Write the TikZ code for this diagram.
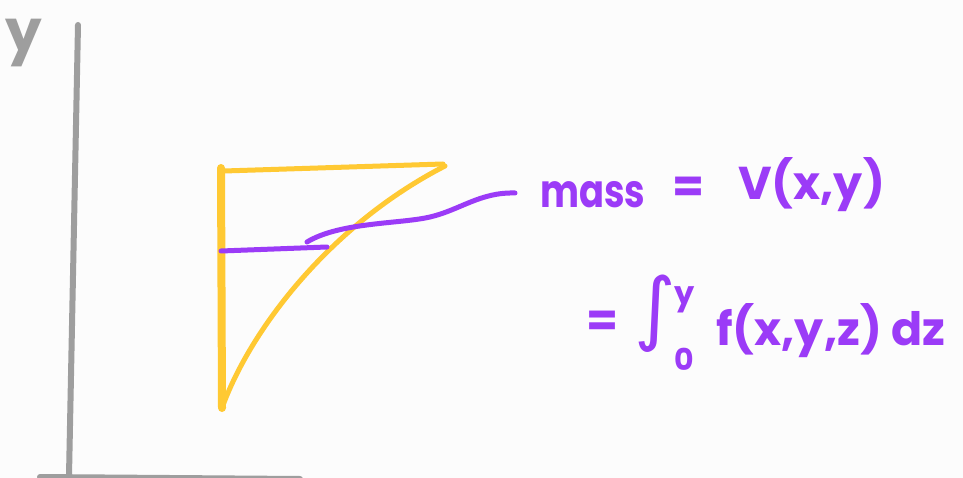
\documentclass[tikz,border=0pt]{standalone}
\usepackage{fontspec}
\setmainfont{Poppins}
\newfontfamily\symfont{DejaVu Sans}
\definecolor{bgc}{HTML}{FCFCFC}
\definecolor{axisgray}{HTML}{9E9E9E}
\definecolor{gold}{HTML}{FFC933}
\definecolor{violet}{HTML}{9B3BF7}
\tikzset{
  axisline/.style={draw=axisgray, line width=6pt, line cap=round},
  goldline/.style={draw=gold, line width=5pt, line cap=round, line join=round},
  violetline/.style={draw=violet, line width=5pt, line cap=round},
  hand/.style={text=violet, inner sep=0pt, anchor=base west, font=\fontsize{46}{50}\selectfont\bfseries},
}
\begin{document}
\begin{tikzpicture}[x=1pt,y=-1pt]
\fill[bgc] (0,0) rectangle (963,478);
\useasboundingbox (0,0) rectangle (963,478);
% axes
\coordinate (ytop) at (78,25);
\coordinate (ybot) at (69,476);
\coordinate (xleft) at (40,477);
\coordinate (xright) at (300,479);
\draw[axisline] (ytop) -- (ybot);
\draw[axisline] (xleft) -- (xright);
\node[text=axisgray, inner sep=0pt, anchor=base west, font=\fontsize{58}{60}\selectfont\bfseries] (ylab) at (5,52) {y};
% gold figure
\coordinate (A) at (221,168);
\coordinate (B) at (222,408);
\coordinate (C) at (443,164);
\draw[goldline, line width=8pt] (A) -- (B);
\draw[goldline] (224,171) -- (C);
\draw[goldline] (445,166) .. controls (330,225) and (250,330) .. (B);
% violet strip and leader
\coordinate (S1) at (221,251);
\coordinate (S2) at (327,247);
\draw[violetline] (S1) -- (S2);
\coordinate (L1) at (307,242);
\coordinate (L2) at (515,193);
\draw[violetline] (L1) .. controls (340,222) and (400,224) .. (430,217) .. controls (460,210) and (480,192) .. (L2);
% text
\node[hand, xscale=0.8, transform shape] (mass) at (540,208) {mass};
\node[hand] (eq1) at (672,203) {=};
\node[hand] (Vxy) at (738,200) {V(x,y)};
\node[hand] (eq2) at (586,336) {=};
\node[text=violet, inner sep=0pt, font=\symfont\fontsize{80}{80}\selectfont] (intg) at (655,314) {∫};
\node[hand, font=\fontsize{32}{34}\selectfont\bfseries] (up) at (674,304) {y};
\node[hand, font=\fontsize{30}{32}\selectfont\bfseries] (low) at (674,370) {0};
\node[hand] (fxyz) at (716,345) {f(x,y,z) dz};
\end{tikzpicture}
\end{document}
